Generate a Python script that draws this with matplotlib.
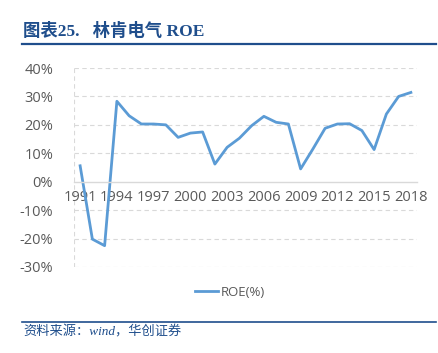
import matplotlib
matplotlib.use("Agg")
import matplotlib.pyplot as plt
from matplotlib.lines import Line2D

# Data
years = list(range(1991, 2019))
roe = [5.6, -20.2, -22.5, 28.3, 23.2, 20.3, 20.3, 20.0, 15.6, 17.1,
       17.5, 6.2, 12.1, 15.3, 19.7, 23.0, 20.9, 20.3, 4.5, 11.5,
       18.8, 20.3, 20.4, 18.0, 11.3, 23.8, 30.0, 31.4]
tick_years = list(range(1991, 2019, 3))
y_ticks = [-30, -20, -10, 0, 10, 20, 30, 40]
series_name = "ROE(%)"

W, H = 439, 353
fig = plt.figure(figsize=(W / 100, H / 100), dpi=100)

navy = "#1F4E8C"
gray = "#595959"
line_blue = "#5B9BD5"

# header
fig.text(23 / W, 1 - 31 / H, "图表25.   林肯电气 ROE", fontsize=12.5, fontweight="bold",
         color=navy, family=["Liberation Serif", "Noto Sans CJK SC"], va="center", ha="left")
fig.add_artist(Line2D([22 / W, 436 / W], [1 - 43.5 / H, 1 - 43.5 / H], color=navy, lw=1.6))

# footer
fig.add_artist(Line2D([22 / W, 436 / W], [1 - 322 / H, 1 - 322 / H], color=navy, lw=1.2))
fig.text(23 / W, 1 - 332 / H, "资料来源：wind，华创证券", fontsize=9.5, style="italic",
         color=navy, family=["Liberation Serif", "Noto Sans CJK SC"], va="center", ha="left")

ax = fig.add_axes([74 / W, 1 - 267 / H, (417 - 74) / W, (267 - 68) / H])
ax.plot(years, roe, color=line_blue, lw=2.0, solid_joinstyle="round", label=series_name)

ax.set_xlim(1990.5, 2018.5)
ax.set_ylim(-30, 40)
ax.set_yticks(y_ticks)
ax.set_yticklabels([f"{v}%" for v in y_ticks])
for v in y_ticks:
    if v != 0:
        ax.axhline(v, color="#D9D9D9", lw=0.8, ls=(0, (4, 3)), zorder=0)
ax.axvline(1990.5, color="#D9D9D9", lw=0.8, ls=(0, (4, 3)), zorder=0)

for s in ["top", "right", "left"]:
    ax.spines[s].set_visible(False)
ax.spines["bottom"].set_position(("data", 0))
ax.spines["bottom"].set_color("#D9D9D9")
ax.spines["bottom"].set_linewidth(1.0)

ax.set_xticks(tick_years)
ax.set_xticklabels([str(y) for y in tick_years])
ax.tick_params(axis="x", length=0, pad=6, labelsize=10.5, labelcolor=gray)
ax.tick_params(axis="y", length=0, pad=15, labelsize=10.5, labelcolor=gray)
for lab in ax.get_xticklabels() + ax.get_yticklabels():
    lab.set_family("Open Sans")

leg = fig.legend(loc="center", bbox_to_anchor=(230 / W, 1 - 292 / H), frameon=False,
                 handlelength=1.8, handletextpad=0.2, prop={"family": "Open Sans", "size": 9.5})
for t in leg.get_texts():
    t.set_color(gray)

fig.savefig("out.png", dpi=100)
